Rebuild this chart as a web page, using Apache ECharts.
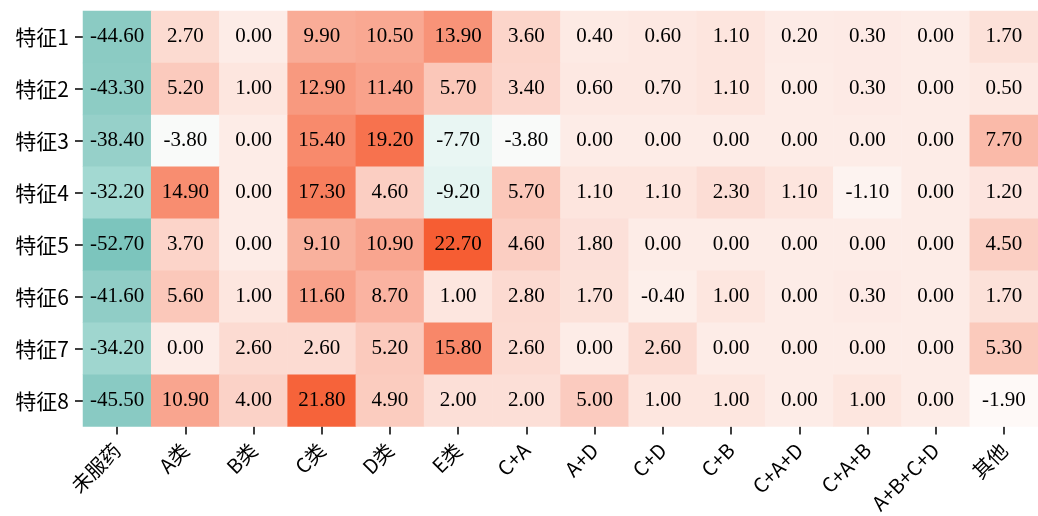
<!DOCTYPE html>
<html>
<head>
<meta charset="utf-8">
<script src="https://cdn.jsdelivr.net/npm/echarts@6/dist/echarts.min.js"></script>
<style>
html,body{margin:0;padding:0;background:#fff;}
#main{width:1038px;height:516px;}
</style>
</head>
<body>
<div id="main"></div>
<script>
const categories = ['未服药','A类','B类','C类','D类','E类','C+A','A+D','C+D','C+B','C+A+D','C+A+B','A+B+C+D','其他'];
const features = ['特征1','特征2','特征3','特征4','特征5','特征6','特征7','特征8'];
const row1 = [-44.6, 2.7, 0.0, 9.9, 10.5, 13.9, 3.6, 0.4, 0.6, 1.1, 0.2, 0.3, 0.0, 1.7];
const row2 = [-43.3, 5.2, 1.0, 12.9, 11.4, 5.7, 3.4, 0.6, 0.7, 1.1, 0.0, 0.3, 0.0, 0.5];
const row3 = [-38.4, -3.8, 0.0, 15.4, 19.2, -7.7, -3.8, 0.0, 0.0, 0.0, 0.0, 0.0, 0.0, 7.7];
const row4 = [-32.2, 14.9, 0.0, 17.3, 4.6, -9.2, 5.7, 1.1, 1.1, 2.3, 1.1, -1.1, 0.0, 1.2];
const row5 = [-52.7, 3.7, 0.0, 9.1, 10.9, 22.7, 4.6, 1.8, 0.0, 0.0, 0.0, 0.0, 0.0, 4.5];
const row6 = [-41.6, 5.6, 1.0, 11.6, 8.7, 1.0, 2.8, 1.7, -0.4, 1.0, 0.0, 0.3, 0.0, 1.7];
const row7 = [-34.2, 0.0, 2.6, 2.6, 5.2, 15.8, 2.6, 0.0, 2.6, 0.0, 0.0, 0.0, 0.0, 5.3];
const row8 = [-45.5, 10.9, 4.0, 21.8, 4.9, 2.0, 2.0, 5.0, 1.0, 1.0, 0.0, 1.0, 0.0, -1.9];
const rows = [row1,row2,row3,row4,row5,row6,row7,row8];

const data = [];
rows.forEach((r, yi) => r.forEach((v, xi) => data.push([xi, yi, v])));

const chart = echarts.init(document.getElementById('main'), null, {renderer:'canvas'});
chart.setOption({
  animation: false,
  backgroundColor: '#ffffff',
  grid: {left: 83, right: -6, top: 11, bottom: 88},
  xAxis: {
    type: 'category',
    data: categories,
    axisLine: {show: false},
    axisTick: {show: true, alignWithLabel: true, length: 8, lineStyle: {color: '#000', width: 1.5}},
    axisLabel: {rotate: 45, color: '#000', fontSize: 20, fontFamily: 'Noto Sans CJK SC', margin: 20, interval: 0},
    splitLine: {show: false}
  },
  yAxis: {
    type: 'category',
    data: features,
    inverse: true,
    axisLine: {show: false},
    axisTick: {show: true, alignWithLabel: true, length: 8, lineStyle: {color: '#000', width: 1.5}},
    axisLabel: {color: '#000', fontSize: 21, fontFamily: 'Noto Sans CJK SC', margin: 14},
    splitLine: {show: false}
  },
  visualMap: {
    show: false,
    type: 'continuous',
    min: -52.7,
    max: 22.7,
    dimension: 2,
    inRange: {color: ['#7cc5bd','#93cec7','#ace0d9','#cdeee9','#fefcfb','#f9aa95','#f65d33']}
  },
  series: [{
    type: 'heatmap',
    data: data,
    label: {
      show: true,
      color: '#000',
      fontSize: 21,
      fontFamily: 'Liberation Serif',
      formatter: p => p.value[2].toFixed(2)
    },
    itemStyle: {borderWidth: 0}
  }]
});
</script>
</body>
</html>
